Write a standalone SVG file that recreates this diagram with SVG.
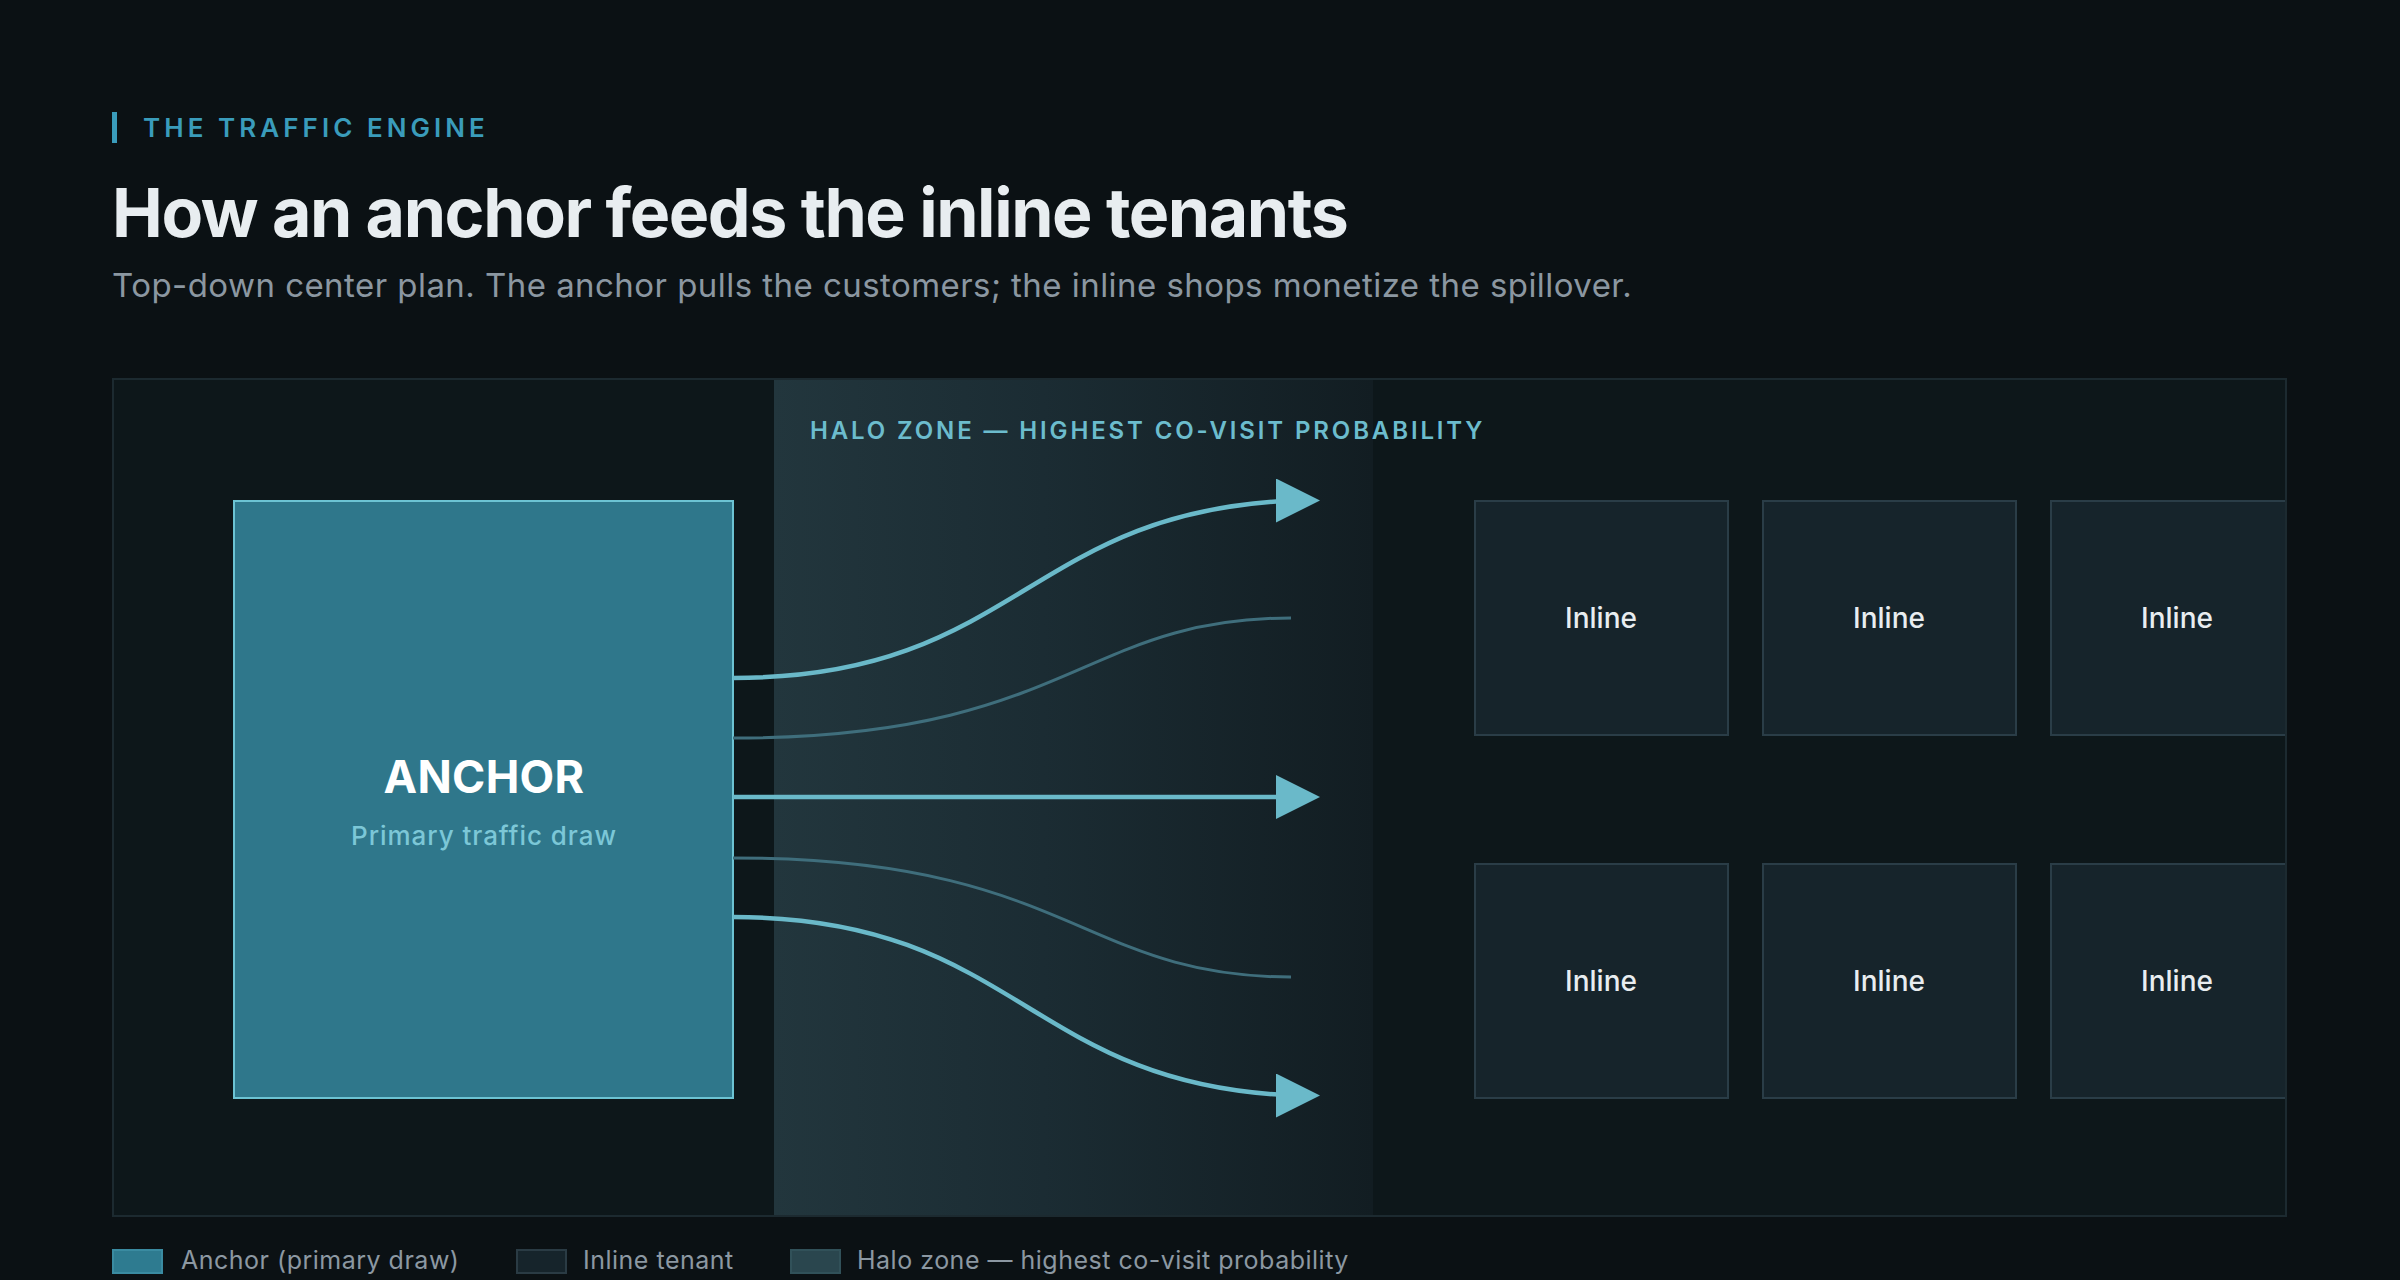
<svg xmlns="http://www.w3.org/2000/svg" width="2400" height="1280" viewBox="0 0 2400 1280">
  <style>
    text { font-family: Inter, "Noto Sans", "Liberation Sans", sans-serif; }
    .eyebrow { font-size: 26px; font-weight: 600; fill: #3a9cbb; letter-spacing: 4.05px; }
    .title { font-size: 68px; font-weight: 700; fill: #e8edf0; letter-spacing: -1.4px; }
    .subtitle { font-size: 33px; font-weight: 400; fill: #8b97a1; letter-spacing: 0.45px; }
    .halo-label { font-size: 24px; font-weight: 600; fill: #6cbccd; letter-spacing: 2.87px; }
    .anchor-box { fill: #2f778b; stroke: #6cc3d3; stroke-width: 2; }
    .anchor-title { font-size: 45px; font-weight: 700; fill: #ffffff; text-anchor: middle; letter-spacing: 0.3px; }
    .anchor-sub { font-size: 26px; font-weight: 500; fill: #7cc7d7; text-anchor: middle; letter-spacing: 0.95px; }
    .inline-box { fill: #16242b; stroke: #2a3d47; stroke-width: 2; }
    .inline-label { font-size: 28px; font-weight: 500; fill: #e8edf0; text-anchor: middle; dominant-baseline: central; }
    .flow-strong { fill: none; stroke: #6ab9c9; stroke-width: 4.5; }
    .flow-weak { fill: none; stroke: #3f6e7c; stroke-width: 3; }
    .legend-text { font-size: 25px; font-weight: 400; fill: #8c98a2; letter-spacing: 0.5px; }
  </style>
  <defs>
    <linearGradient id="haloGrad" x1="0" y1="0" x2="1" y2="0">
      <stop offset="0" stop-color="#22363d"/>
      <stop offset="0.45" stop-color="#1b2c33"/>
      <stop offset="1" stop-color="#121d22"/>
    </linearGradient>
    <clipPath id="panelClip">
      <rect x="113" y="379" width="2173" height="837"/>
    </clipPath>
    <marker id="arrowHead" markerUnits="userSpaceOnUse" markerWidth="44" markerHeight="44" viewBox="0 0 44 44" refX="18.4" refY="22" orient="0">
      <path d="M0,0 L44,22 L0,44 Z" fill="#6ab9c9"/>
    </marker>
  </defs>

  <rect x="0" y="0" width="2400" height="1280" fill="#0b1114"/>

  <g id="header">
    <rect x="112" y="112" width="5" height="31" fill="#3a9cbb"/>
    <text class="eyebrow" x="143" y="137">THE TRAFFIC ENGINE</text>
    <text class="title" x="112" y="237">How an anchor feeds the inline tenants</text>
    <text class="subtitle" x="112" y="297">Top-down center plan. The anchor pulls the customers; the inline shops monetize the spillover.</text>
  </g>

  <g id="panel">
    <rect x="113" y="379" width="2173" height="837" fill="#0d171a" stroke="#1c2a30" stroke-width="2"/>
  </g>

  <g id="halo-zone">
    <rect x="774" y="380" width="599" height="835" fill="url(#haloGrad)"/>
    <text class="halo-label" x="810" y="439">HALO ZONE — HIGHEST CO-VISIT PROBABILITY</text>
  </g>

  <g id="anchor">
    <rect class="anchor-box" x="234" y="501" width="499" height="597"/>
    <text class="anchor-title" x="484" y="793">ANCHOR</text>
    <text class="anchor-sub" x="484" y="845">Primary traffic draw</text>
  </g>

  <g id="connectors">
    <path class="flow-strong" d="M733,678 C1017.7,678 1026.2,510.5 1294.4,500.5" marker-end="url(#arrowHead)"/>
    <path class="flow-weak" d="M733,738 C1070,738 1080,618 1291,618"/>
    <path class="flow-strong" d="M733,797 L1294.4,797" marker-end="url(#arrowHead)"/>
    <path class="flow-weak" d="M733,858 C1070,858 1080,977 1291,977"/>
    <path class="flow-strong" d="M733,917 C1017.7,917 1026.2,1085.4 1294.4,1095.5" marker-end="url(#arrowHead)"/>
  </g>

  <g id="inline-tenants" clip-path="url(#panelClip)">
    <g id="inline-1">
      <rect class="inline-box" x="1475" y="501" width="253" height="234"/>
      <text class="inline-label" x="1601" y="618">Inline</text>
    </g>
    <g id="inline-2">
      <rect class="inline-box" x="1763" y="501" width="253" height="234"/>
      <text class="inline-label" x="1889" y="618">Inline</text>
    </g>
    <g id="inline-3">
      <rect class="inline-box" x="2051" y="501" width="253" height="234"/>
      <text class="inline-label" x="2177" y="618">Inline</text>
    </g>
    <g id="inline-4">
      <rect class="inline-box" x="1475" y="864" width="253" height="234"/>
      <text class="inline-label" x="1601" y="981">Inline</text>
    </g>
    <g id="inline-5">
      <rect class="inline-box" x="1763" y="864" width="253" height="234"/>
      <text class="inline-label" x="1889" y="981">Inline</text>
    </g>
    <g id="inline-6">
      <rect class="inline-box" x="2051" y="864" width="253" height="234"/>
      <text class="inline-label" x="2177" y="981">Inline</text>
    </g>
  </g>
  <rect x="113" y="379" width="2173" height="837" fill="none" stroke="#1c2a30" stroke-width="2"/>

  <g id="legend">
    <rect x="113" y="1250" width="49" height="23" fill="#2e7b90" stroke="#3a8ba1" stroke-width="2"/>
    <text class="legend-text" x="181" y="1269">Anchor (primary draw)</text>
    <rect x="517" y="1250" width="49" height="23" fill="#16242b" stroke="#2a3b44" stroke-width="2"/>
    <text class="legend-text" x="583" y="1269">Inline tenant</text>
    <rect x="791" y="1250" width="49" height="23" fill="#2a464e" stroke="#315159" stroke-width="2"/>
    <text class="legend-text" x="857" y="1269">Halo zone — highest co-visit probability</text>
  </g>
</svg>
